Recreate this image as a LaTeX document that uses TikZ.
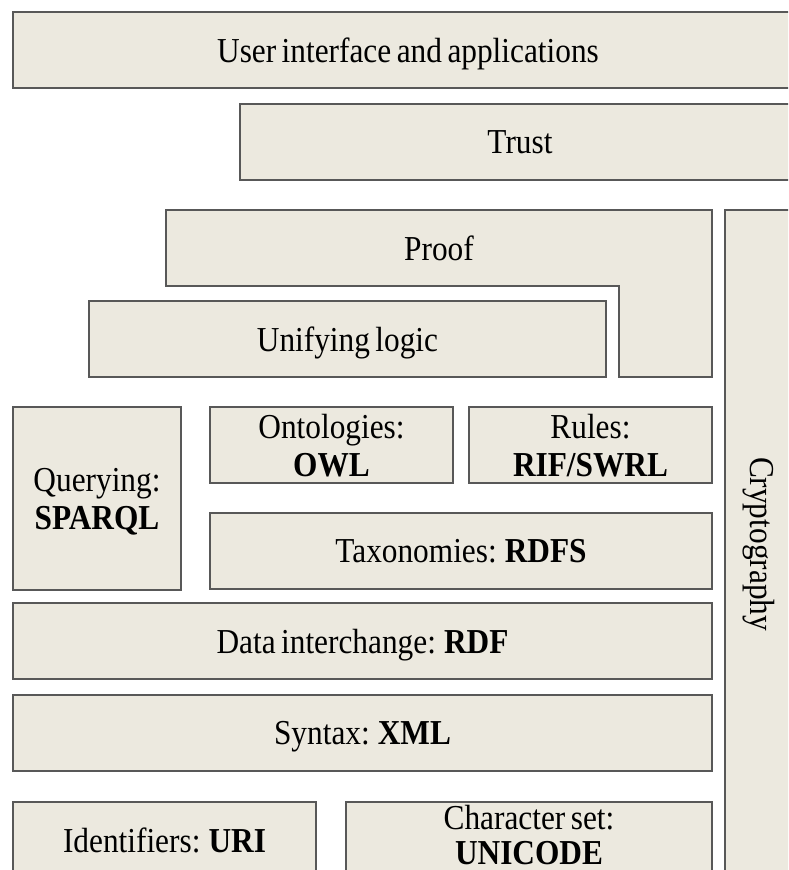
\documentclass[tikz,border=0pt]{standalone}
\usepackage{fontspec}
\setmainfont{Liberation Serif}[FakeStretch=0.895, WordSpace=0.7]
\definecolor{layerfill}{RGB}{236,233,223}
\definecolor{layerline}{RGB}{88,88,88}
\begin{document}
\begin{tikzpicture}[x=1pt,y=-1pt,
  layer/.style={draw=layerline, fill=layerfill, line width=2pt, inner sep=0pt,
    align=center, text=black, text depth=0pt, font=\fontsize{35}{38}\selectfont},
  outline/.style={draw=layerline, fill=layerfill, line width=2pt},
  caption/.style={inner sep=0pt, align=center, text=black, text depth=0pt,
    font=\fontsize{35}{38}\selectfont}]
\useasboundingbox (0,0) rectangle (788,870);
\clip (0,0) rectangle (788,870);

% top of the stack
\node[layer, minimum width=790pt, minimum height=76pt] (ui) at (408,50) {User interface and applications};
\node[layer, minimum width=560pt, minimum height=76pt] (trust) at (520,142) {Trust};

% proof wraps around the unifying logic layer
\draw[outline] (166,210) -- (712,210) -- (712,377) -- (619,377) -- (619,286) -- (166,286) -- cycle;
\node[caption] (proof) at (439,248) {Proof};
\node[layer, minimum width=517pt, minimum height=76pt] (logic) at (347.5,339) {Unifying logic};

% middle layers
\node[layer, minimum width=168pt, minimum height=183pt] (query) at (97,498.5) {Querying:\\\textbf{SPARQL}};
\node[layer, minimum width=243pt, minimum height=76pt] (onto) at (331.5,445) {Ontologies:\\\textbf{OWL}};
\node[layer, minimum width=243pt, minimum height=76pt] (rules) at (590.5,445) {Rules:\\\textbf{RIF/SWRL}};
\node[layer, minimum width=502pt, minimum height=76pt] (rdfs) at (461,551) {Taxonomies: \textbf{RDFS}};
\node[layer, minimum width=699pt, minimum height=76pt] (rdf) at (362.5,641) {Data interchange: \textbf{RDF}};
\node[layer, minimum width=699pt, minimum height=76pt] (xml) at (362.5,733) {Syntax: \textbf{XML}};

% foundation
\node[layer, minimum width=303pt, minimum height=76pt] (uri) at (164.5,840) {Identifiers: \textbf{URI}};
\node[layer, minimum width=366pt, minimum height=76pt] (unicode) at (529,840) {};
\node[caption, font=\fontsize{35}{35}\selectfont] (unicodetext) at (529,834.5) {Character set:\\\textbf{UNICODE}};

% vertical cryptography column
\node[layer, rotate=-90, minimum width=668pt, minimum height=75pt] (crypto) at (762.5,544) {Cryptography};
\end{tikzpicture}
\end{document}
